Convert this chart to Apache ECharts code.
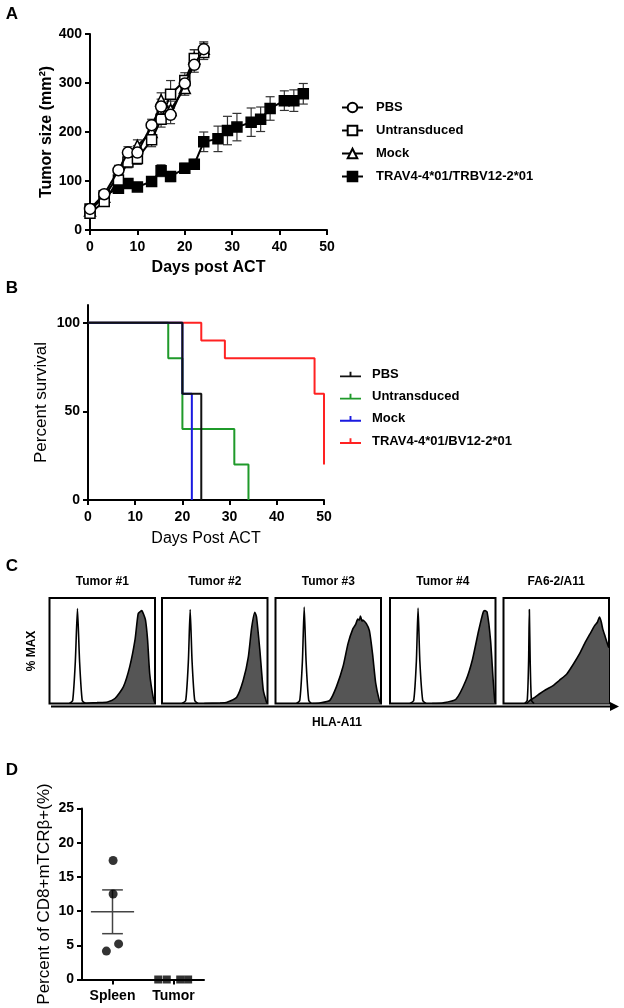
<!DOCTYPE html>
<html><head><meta charset="utf-8">
<script src="https://cdn.jsdelivr.net/npm/echarts@6/dist/echarts.min.js"></script>
<style>html,body{margin:0;padding:0;background:#fff}#c{width:624px;height:1008px}</style>
</head><body><div id="c"></div>
<script>
// ---------- Panel A data ----------
const daysA = [0, 3, 6, 8, 10, 13, 15, 17, 20, 22, 24];
const pbsVals = [43, 73, 122, 158, 158, 214, 252, 235, 299, 337, 369];
const pbsErr = [8, 8, 10, 12, 14, 12, 15, 18, 14, 15, 12];
const untVals = [34, 58, 102, 139, 146, 184, 226, 277, 305, 350, 362];
const untErr = [8, 8, 10, 12, 12, 14, 16, 28, 16, 18, 14];
const mockVals = [40, 68, 112, 150, 172, 200, 265, 245, 290, 350, 370];
const mockErr = [8, 8, 10, 12, 12, 14, 15, 18, 15, 18, 14];
const travDays = [0, 3, 6, 8, 10, 13, 15, 17, 20, 22, 24, 27, 29, 31, 34, 36, 38, 41, 43, 45];
const travVals = [43, 70, 85, 95, 88, 99, 121, 109, 126, 134, 180, 186, 203, 210, 220, 226, 248, 264, 264, 278];
const travErr = [6, 6, 8, 8, 8, 8, 12, 10, 10, 10, 20, 26, 29, 28, 29, 25, 24, 20, 22, 21];
const namesA = ['PBS', 'Untransduced', 'Mock', 'TRAV4-4*01/TRBV12-2*01'];

// ---------- Panel B data (Kaplan-Meier steps) ----------
const pbsSurvX = [0, 20, 24];
const pbsSurvY = [100, 60, 0];
const untSurvX = [0, 17, 20, 31, 34];
const untSurvY = [100, 80, 40, 20, 0];
const mockSurvX = [0, 20, 22];
const mockSurvY = [100, 60, 0];
const travSurvX = [0, 24, 29, 48, 50];
const travSurvY = [100, 90, 80, 60, 20];
const namesB = ['PBS ', 'Untransduced ', 'Mock ', 'TRAV4-4*01/BV12-2*01'];

// ---------- Panel C data (histograms, % of channel range / % max) ----------
const histTitles = ['Tumor #1', 'Tumor #2', 'Tumor #3', 'Tumor #4', 'FA6-2/A11'];
const ctrl1 = [[19,0],[22,3],[24.5,40],[26.5,90],[28.5,40],[31,3],[34,0]];
const fill1 = [[30,0],[45,0.8],[55,1.5],[62,4.7],[70,15.8],[76,34.7],[81,60],[84,85],[86,87],[87.5,88],[89,85],[91,79],[93,60],[95,28],[98.4,5],[100,0]];
const ctrl2 = [[19,0],[22.5,3],[25,40],[26.7,89],[28.5,40],[31,3],[34,0]];
const fill2 = [[40,0],[55,0.5],[61,1],[70.8,6],[77,22],[81.8,44],[85,72],[88,86.5],[89.6,82],[92.8,50],[96,12.6],[99,1.5],[100,0]];
const ctrl3 = [[20,0],[23,3],[25.5,40],[27.2,91.5],[29,40],[31.5,3],[34,0]];
const fill3 = [[35,0],[42,0.5],[51.5,3],[57.8,16],[64,35],[68.8,57],[73.4,71],[76,75],[78,80],[79.5,79],[80.5,83],[82,78],[82.8,79],[86,76],[89,69],[92,47],[95,19],[98.4,3],[100,0]];
const ctrl4 = [[19,0],[22.5,3],[25,40],[26.6,90.5],[28.3,40],[31,3],[34,0]];
const fill4 = [[40,0],[50,0.5],[62.5,4],[72,22],[78,41],[84,69],[88.4,86.8],[90,88],[92,86.8],[95.3,60],[97.8,22],[99.4,1.5],[100,0]];
const ctrl5 = [[20,0],[22.5,3],[23.8,40],[24.5,89],[25.3,40],[26.5,3],[29,0]];
const fill5 = [[22,0],[25,3],[30,6],[34.6,9.5],[40,13],[47,17],[53,22],[60,28],[66,37],[72,47],[77,57],[82,66],[86.5,74],[89,77],[91,82],[92.5,78],[94,71],[96.5,63],[99.4,54],[100,53]];
const ctrls = [ctrl1, ctrl2, ctrl3, ctrl4, ctrl5];
const fills = [fill1, fill2, fill3, fill4, fill5];

// ---------- Panel D data ----------
const catsD = ['Spleen', 'Tumor'];
const spleenX = [0.51, 0.51, 0.6, 0.4];
const spleenY = [17.4, 12.5, 5.2, 4.15];
const tumorX = [1.25, 1.39, 1.61, 1.74];
const tumorY = [0, 0, 0, 0];
const spleenMean = 9.9;
const spleenSem = 3.2;

const FONT = '"Liberation Sans", Arial, sans-serif';
const chart = echarts.init(document.getElementById('c'), null, {renderer: 'canvas'});

const axisLineStyle = {lineStyle: {color: '#000', width: 2}};
const tickStyle = {show: true, inside: false, length: 5, lineStyle: {color: '#000', width: 2}};
const tickLabel = {color: '#000', fontFamily: FONT, fontWeight: 'bold', fontSize: 14};

function errRender(params, api) {
  const x = api.value(0), y = api.value(1), e = api.value(2);
  const t = api.coord([x, y + e]), b = api.coord([x, y - e]);
  const w = 4.5;
  const st = {stroke: '#333', lineWidth: 1.2};
  return {type: 'group', children: [
    {type: 'line', shape: {x1: t[0], y1: t[1], x2: b[0], y2: b[1]}, style: st},
    {type: 'line', shape: {x1: t[0] - w, y1: t[1], x2: t[0] + w, y2: t[1]}, style: st},
    {type: 'line', shape: {x1: b[0] - w, y1: b[1], x2: b[0] + w, y2: b[1]}, style: st}
  ]};
}
function meanRender(params, api) {
  const x = api.value(0), m = api.value(1), s = api.value(2);
  const l = api.coord([x - 0.354, m]), r = api.coord([x + 0.354, m]);
  const t = api.coord([x, m + s]), b = api.coord([x, m - s]);
  const cl = api.coord([x - 0.17, m + s]), cr = api.coord([x + 0.17, m + s]);
  const st = {stroke: '#444', lineWidth: 1.5};
  return {type: 'group', children: [
    {type: 'line', shape: {x1: l[0], y1: l[1], x2: r[0], y2: r[1]}, style: st},
    {type: 'line', shape: {x1: t[0], y1: t[1], x2: b[0], y2: b[1]}, style: st},
    {type: 'line', shape: {x1: cl[0], y1: cl[1], x2: cr[0], y2: cr[1]}, style: st},
    {type: 'line', shape: {x1: cl[0], y1: b[1], x2: cr[0], y2: b[1]}, style: st}
  ]};
}
const zip = (xs, ys) => xs.map((x, i) => [x, ys[i]]);
const zip3 = (xs, ys, es) => xs.map((x, i) => [x, ys[i], es[i]]);

const grids = [
  {left: 90, top: 34, width: 237, height: 196},
  {left: 88, top: 305, width: 236, height: 195},
];
const boxLefts = [49.5, 162, 275.5, 390, 503.5];
boxLefts.forEach(l => grids.push({left: l, top: 598, width: 105.5, height: 105.5, show: true, borderColor: '#000', borderWidth: 2, backgroundColor: '#fff'}));
grids.push({left: 82, top: 808.5, width: 122, height: 171});

const xAxes = [
  {gridIndex: 0, type: 'value', min: 0, max: 50, interval: 10, axisLine: axisLineStyle, axisTick: tickStyle, splitLine: {show: false}, axisLabel: Object.assign({margin: 10}, tickLabel),
   name: 'Days post ACT', nameLocation: 'middle', nameGap: 30, nameTextStyle: {color: '#000', fontFamily: FONT, fontSize: 16, fontWeight: 'bold'}},
  {gridIndex: 1, type: 'value', min: 0, max: 50, interval: 10, axisLine: axisLineStyle, axisTick: tickStyle, splitLine: {show: false}, axisLabel: Object.assign({margin: 10}, tickLabel),
   name: 'Days Post ACT', nameLocation: 'middle', nameGap: 31, nameTextStyle: {color: '#000', fontFamily: FONT, fontSize: 16}},
];
const yAxes = [
  {gridIndex: 0, type: 'value', min: 0, max: 400, interval: 100, axisLine: axisLineStyle, axisTick: tickStyle, splitLine: {show: false}, axisLabel: Object.assign({margin: 8}, tickLabel),
   name: 'Tumor size (mm²)', nameLocation: 'middle', nameGap: 34, nameRotate: 90, nameTextStyle: {color: '#000', fontFamily: FONT, fontSize: 16, fontWeight: 'bold'}},
  {gridIndex: 1, type: 'value', min: 0, max: 110, axisLine: axisLineStyle,
   axisTick: Object.assign({customValues: [0, 50, 100]}, tickStyle), splitLine: {show: false},
   axisLabel: Object.assign({margin: 8, customValues: [0, 50, 100]}, tickLabel),
   name: 'Percent survival', nameLocation: 'middle', nameGap: 38, nameRotate: 90, nameTextStyle: {color: '#000', fontFamily: FONT, fontSize: 17}},
];
for (let i = 0; i < 5; i++) {
  xAxes.push({gridIndex: 2 + i, type: 'value', min: 0, max: 100, show: false});
  yAxes.push({gridIndex: 2 + i, type: 'value', min: 0, max: 100, show: false});
}
xAxes.push({gridIndex: 7, type: 'value', min: 0, max: 2, axisLine: axisLineStyle,
  axisTick: Object.assign({customValues: [0.5, 1.5]}, tickStyle), splitLine: {show: false},
  axisLabel: Object.assign({margin: 10, customValues: [0.5, 1.5], formatter: v => catsD[Math.round(v - 0.5)]}, tickLabel)});
yAxes.push({gridIndex: 7, type: 'value', min: 0, max: 25, interval: 5, axisLine: axisLineStyle, axisTick: tickStyle, splitLine: {show: false},
  axisLabel: Object.assign({margin: 8}, tickLabel),
  name: 'Percent of CD8+mTCRβ+(%)', nameLocation: 'middle', nameGap: 29, nameRotate: 90, nameTextStyle: {color: '#000', fontFamily: FONT, fontSize: 17}});

const series = [];
// Panel A error bars
[[travDays, travVals, travErr], [daysA, mockVals, mockErr], [daysA, untVals, untErr], [daysA, pbsVals, pbsErr]].forEach(([d, v, e]) => {
  series.push({type: 'custom', xAxisIndex: 0, yAxisIndex: 0, renderItem: errRender, data: zip3(d, v, e), z: 1, silent: true});
});
const symA = {
  'TRAV4-4*01/TRBV12-2*01': {symbol: 'rect', size: 10, fill: '#000'},
  'Mock': {symbol: 'triangle', size: 11, fill: '#fff'},
  'Untransduced': {symbol: 'rect', size: 10, fill: '#fff'},
  'PBS': {symbol: 'circle', size: 11, fill: '#fff'}
};
[['TRAV4-4*01/TRBV12-2*01', travDays, travVals], ['Mock', daysA, mockVals], ['Untransduced', daysA, untVals], ['PBS', daysA, pbsVals]].forEach(([n, d, v], k) => {
  const s = symA[n];
  series.push({type: 'line', name: n, xAxisIndex: 0, yAxisIndex: 0, data: zip(d, v), symbol: s.symbol, symbolSize: s.size,
    showAllSymbol: true, itemStyle: {color: s.fill, borderColor: '#000', borderWidth: 1.5},
    lineStyle: {color: '#000', width: 2}, z: 3 + k});
});
// Panel B
const colB = ['#111111', '#1f9a2a', '#1a1ae0', '#ff2222'];
[[namesB[3], travSurvX, travSurvY, colB[3]], [namesB[1], untSurvX, untSurvY, colB[1]], [namesB[2], mockSurvX, mockSurvY, colB[2]], [namesB[0], pbsSurvX, pbsSurvY, colB[0]]].forEach(([n, xs, ys, c], k) => {
  series.push({type: 'line', name: n, xAxisIndex: 1, yAxisIndex: 1, step: 'end', data: zip(xs, ys), symbol: 'none',
    itemStyle: {color: c}, lineStyle: {color: c, width: 2}, z: 3 + k});
});
// Panel C
for (let i = 0; i < 5; i++) {
  series.push({type: 'line', xAxisIndex: 2 + i, yAxisIndex: 2 + i, data: fills[i], symbol: 'none', smooth: 0.2,
    lineStyle: {color: '#000', width: 1.6}, areaStyle: {color: '#555', opacity: 1}, z: 2, silent: true});
  series.push({type: 'line', xAxisIndex: 2 + i, yAxisIndex: 2 + i, data: ctrls[i], symbol: 'none', smooth: 0.2,
    lineStyle: {color: '#000', width: 1.6}, z: 3, silent: true});
}
// Panel D
series.push({type: 'custom', xAxisIndex: 7, yAxisIndex: 7, renderItem: meanRender, data: [[0.5, spleenMean, spleenSem]], z: 2, silent: true});
series.push({type: 'scatter', xAxisIndex: 7, yAxisIndex: 7, data: zip(spleenX, spleenY), symbol: 'circle', symbolSize: 9, itemStyle: {color: '#000'}, z: 3});
series.push({type: 'scatter', xAxisIndex: 7, yAxisIndex: 7, data: zip(tumorX, tumorY), symbol: 'rect', symbolSize: 8, itemStyle: {color: '#000'}, z: 3});

const txt = (x, y, t, size, weight, extra) => Object.assign({type: 'text', x: x, y: y,
  style: {text: t, fill: '#000', font: (weight || 'bold') + ' ' + size + 'px ' + FONT, textAlign: 'center', textVerticalAlign: 'middle'}}, extra || {});
const graphics = [
  txt(12, 14, 'A', 17), txt(12, 288, 'B', 17), txt(12, 566, 'C', 17), txt(12, 770, 'D', 17),
  txt(32, 651, '% MAX', 12, 'bold', {rotation: Math.PI / 2}),
  txt(337, 723, 'HLA-A11', 12),
  {type: 'line', shape: {x1: 51, y1: 706.5, x2: 612, y2: 706.5}, style: {stroke: '#000', lineWidth: 2}},
  {type: 'polygon', shape: {points: [[610, 702], [619, 706.5], [610, 711]]}, style: {fill: '#000'}}
];
boxLefts.forEach((l, i) => graphics.push(txt(l + 52.75, 582, histTitles[i], 12)));

chart.setOption({
  animation: false,
  backgroundColor: '#fff',
  textStyle: {fontFamily: FONT},
  grid: grids,
  xAxis: xAxes,
  yAxis: yAxes,
  legend: [
    {data: namesA.slice(), orient: 'vertical', left: 336, top: 96, itemWidth: 21, itemHeight: 12, itemGap: 10,
     textStyle: {color: '#000', fontFamily: FONT, fontWeight: 'bold', fontSize: 13, padding: [0, 0, 0, 8]}, selectedMode: false},
    {data: namesB.map(n => ({name: n, icon: 'path://M0,8h22v2h-22z M10,4h2v5h-2z'})), orient: 'vertical', left: 335, top: 363, itemWidth: 21, itemHeight: 7, itemGap: 9.2,
     textStyle: {color: '#000', fontFamily: FONT, fontWeight: 'bold', fontSize: 13, padding: [0, 0, 0, 6]}, selectedMode: false}
  ],
  graphic: graphics,
  series: series
});
</script></body></html>
